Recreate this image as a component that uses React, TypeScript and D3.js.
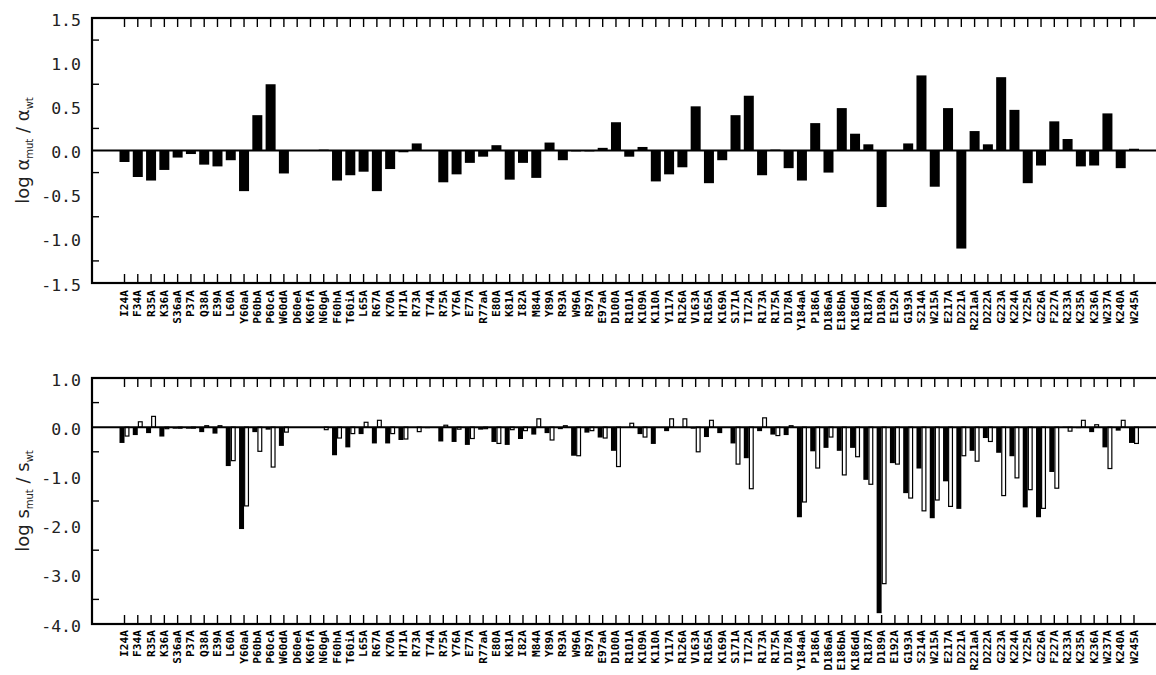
import React from 'react';
import * as d3 from 'd3';

const categories = [
  'I24A', 'F34A', 'R35A', 'K36A', 'S36aA', 'P37A', 'Q38A', 'E39A', 'L60A', 'Y60aA',
  'P60bA', 'P60cA', 'W60dA', 'D60eA', 'K60fA', 'N60gA', 'F60hA', 'T60iA', 'L65A', 'R67A',
  'K70A', 'H71A', 'R73A', 'T74A', 'R75A', 'Y76A', 'E77A', 'R77aA', 'E80A', 'K81A',
  'I82A', 'M84A', 'Y89A', 'R93A', 'W96A', 'R97A', 'E97aA', 'D100A', 'R101A', 'K109A',
  'K110A', 'Y117A', 'R126A', 'V163A', 'R165A', 'K169A', 'S171A', 'T172A', 'R173A', 'R175A',
  'D178A', 'Y184aA', 'P186A', 'D186aA', 'E186bA', 'K186dA', 'R187A', 'D189A', 'E192A', 'G193A',
  'S214A', 'W215A', 'E217A', 'D221A', 'R221aA', 'D222A', 'G223A', 'K224A', 'Y225A', 'G226A',
  'F227A', 'R233A', 'K235A', 'K236A', 'W237A', 'K240A', 'W245A',
];

// log alpha_mut / alpha_wt
const alphaValues = [
  -0.13, -0.30, -0.34, -0.22, -0.08, -0.04, -0.16, -0.18, -0.11, -0.46,
  0.40, 0.75, -0.26, 0.0, 0.0, 0.01, -0.34, -0.28, -0.24, -0.46,
  -0.21, -0.02, 0.08, 0.0, -0.36, -0.27, -0.14, -0.07, 0.06, -0.33,
  -0.14, -0.31, 0.09, -0.11, -0.01, -0.01, 0.03, 0.32, -0.07, 0.04,
  -0.35, -0.27, -0.19, 0.50, -0.37, -0.11, 0.40, 0.62, -0.28, 0.01,
  -0.20, -0.34, 0.31, -0.25, 0.48, 0.19, 0.07, -0.64, 0.0, 0.08,
  0.85, -0.41, 0.48, -1.11, 0.22, 0.07, 0.83, 0.46, -0.37, -0.17,
  0.33, 0.13, -0.18, -0.17, 0.42, -0.20, 0.02,
];

// log s_mut / s_wt, filled bars
const sFilled = [
  -0.32, -0.16, -0.12, -0.19, -0.03, -0.03, -0.10, -0.13, -0.79, -2.07,
  -0.10, -0.05, -0.38, 0.0, 0.0, 0.0, -0.57, -0.41, -0.14, -0.33,
  -0.33, -0.26, 0.0, -0.02, -0.29, -0.30, -0.36, -0.05, -0.30, -0.36,
  -0.24, -0.15, -0.12, -0.04, -0.58, -0.11, -0.21, -0.48, -0.01, -0.14,
  -0.34, -0.08, -0.01, -0.03, -0.20, -0.12, -0.33, -0.63, -0.08, -0.15,
  -0.16, -1.83, -0.49, -0.42, -0.48, -0.42, -1.07, -3.78, -0.73, -1.34,
  -0.84, -1.85, -1.10, -1.66, -0.48, -0.22, -0.52, -0.59, -1.63, -1.83,
  -0.91, 0.01, -0.02, -0.10, -0.41, -0.07, -0.32,
];

// log s_mut / s_wt, open bars
const sOpen = [
  -0.18, 0.11, 0.22, -0.03, -0.02, -0.02, 0.03, 0.03, -0.68, -1.60,
  -0.49, -0.81, -0.10, 0.0, 0.0, -0.05, -0.22, -0.13, 0.10, 0.14,
  -0.13, -0.24, -0.09, 0.0, 0.04, -0.04, -0.23, -0.03, -0.33, -0.05,
  -0.07, 0.17, -0.26, 0.03, -0.58, -0.07, -0.22, -0.80, 0.08, -0.20,
  -0.01, 0.17, 0.17, -0.50, 0.14, -0.01, -0.75, -1.25, 0.19, -0.17,
  0.03, -1.52, -0.83, -0.20, -0.97, -0.60, -1.16, -3.18, -0.75, -1.44,
  -1.70, -1.48, -1.61, -0.58, -0.69, -0.29, -1.39, -1.03, -1.27, -1.65,
  -1.24, -0.08, 0.14, 0.05, -0.84, 0.14, -0.33,
];

const alphaTickLabels = [1.5, 1.0, 0.5, 0.0, -0.5, -1.0, -1.5];
const alphaMinorTicks = [1.25, 0.75, 0.25, -0.25, -0.75, -1.25];
const sTickLabels = [1.0, 0.0, -1.0, -2.0, -3.0, -4.0];
const sMinorTicks = [0.5, -0.5, -1.5, -2.5, -3.5];

const W = 1156;
const H = 675;
const frameLeft = 92;
const frameRight = 1162;

const x = d3.scalePoint<string>().domain(categories).range([124.5, 1134]);

const yTop = d3.scaleLinear().domain([-1.5, 1.5]).range([283, 18]);
const yBot = d3.scaleLinear().domain([-4, 1]).range([624, 378]);

const tickFont = '"DejaVu Sans Mono", monospace';
const catFont = '"DejaVu Sans Mono", monospace';
const titleFont = '"DejaVu Sans", sans-serif';

function fmt(v: number) {
  return v.toFixed(1);
}

function Panel({
  y,
  labels,
  minor,
  labelY,
  children,
  title,
}: {
  y: d3.ScaleLinear<number, number>;
  labels: number[];
  minor: number[];
  labelY: number;
  children: React.ReactNode;
  title: React.ReactNode;
}) {
  const [yMin, yMax] = y.domain();
  const top = y(yMax);
  const bottom = y(yMin);
  const zero = y(0);
  return (
    <g>
      {children}
      <line x1={frameLeft} x2={frameRight} y1={zero} y2={zero} stroke="#000" strokeWidth={2} />
      <rect
        x={frameLeft}
        y={top}
        width={frameRight - frameLeft}
        height={bottom - top}
        fill="none"
        stroke="#000"
        strokeWidth={2.2}
      />
      {categories.map((c) => (
        <g key={c}>
          <line x1={x(c)} x2={x(c)} y1={top} y2={top + 9} stroke="#000" strokeWidth={1.4} />
          <line x1={x(c)} x2={x(c)} y1={bottom} y2={bottom - 9} stroke="#000" strokeWidth={1.4} />
          <text
            transform={`translate(${x(c)},${labelY}) rotate(-90)`}
            textAnchor="end"
            dominantBaseline="central"
            fontFamily={catFont}
            fontWeight="bold"
            fontSize={11.2}
            fill="#000"
          >
            {c}
          </text>
        </g>
      ))}
      {minor.map((v) => (
        <line key={v} x1={frameLeft} x2={frameLeft + 7} y1={y(v)} y2={y(v)} stroke="#000" strokeWidth={1.4} />
      ))}
      {labels.map((v) => (
        <text
          key={v}
          x={81}
          y={y(v) + 2}
          textAnchor="end"
          dominantBaseline="central"
          fontFamily={tickFont}
          fontSize={16.5}
          fill="#222"
        >
          {fmt(v)}
        </text>
      ))}
      {title}
    </g>
  );
}

export default function App() {
  const bw = 10;
  const pw = 5;
  return (
    <svg
      width={W}
      height={H}
      viewBox={`0 0 ${W} ${H}`}
      style={{ position: 'absolute', left: 0, top: 0, background: '#fff' }}
    >
      <rect x={0} y={0} width={W} height={H} fill="#fff" />
      <Panel
        y={yTop}
        labels={alphaTickLabels}
        minor={alphaMinorTicks}
        labelY={290}
        title={
          <text
            transform={`translate(29,${(yTop(1.5) + yTop(-1.5)) / 2}) rotate(-90)`}
            textAnchor="middle"
            fontFamily={titleFont}
            fontSize={18}
            fill="#222"
          >
            log α<tspan fontSize={10} dy={4}>mut</tspan>
            <tspan dy={-4}> / α</tspan>
            <tspan fontSize={10} dy={4}>wt</tspan>
          </text>
        }
      >
        {categories.map((c, i) => {
          const v = alphaValues[i];
          const y0 = yTop(0);
          const y1 = yTop(v);
          return (
            <rect
              key={c}
              x={(x(c) as number) - bw / 2}
              y={Math.min(y0, y1)}
              width={bw}
              height={Math.max(Math.abs(y1 - y0), 0)}
              fill="#000"
            />
          );
        })}
      </Panel>
      <Panel
        y={yBot}
        labels={sTickLabels}
        minor={sMinorTicks}
        labelY={630}
        title={
          <text
            transform={`translate(29,${(yBot(1) + yBot(-4)) / 2}) rotate(-90)`}
            textAnchor="middle"
            fontFamily={titleFont}
            fontSize={18}
            fill="#222"
          >
            log s<tspan fontSize={10} dy={4}>mut</tspan>
            <tspan dy={-4}> / s</tspan>
            <tspan fontSize={10} dy={4}>wt</tspan>
          </text>
        }
      >
        {categories.map((c, i) => {
          const v = sFilled[i];
          const y0 = yBot(0);
          const y1 = yBot(v);
          return (
            <rect
              key={'f' + c}
              x={(x(c) as number) - pw}
              y={Math.min(y0, y1)}
              width={pw}
              height={Math.abs(y1 - y0)}
              fill="#000"
            />
          );
        })}
        {categories.map((c, i) => {
          const v = sOpen[i];
          const y0 = yBot(0);
          const y1 = yBot(v);
          if (Math.abs(y1 - y0) < 0.5) return null;
          return (
            <rect
              key={'o' + c}
              x={(x(c) as number) + 0.6}
              y={Math.min(y0, y1)}
              width={pw - 1.2}
              height={Math.abs(y1 - y0)}
              fill="#fff"
              stroke="#000"
              strokeWidth={1.2}
            />
          );
        })}
      </Panel>
    </svg>
  );
}
